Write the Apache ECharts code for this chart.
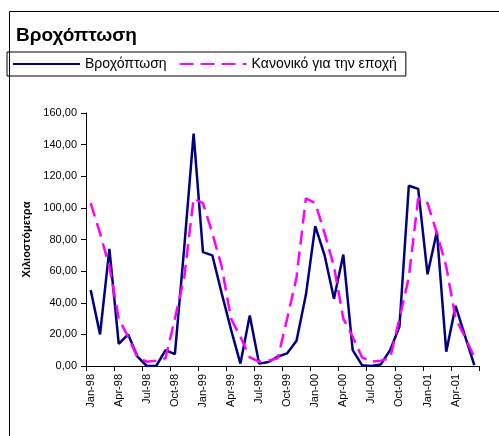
<!DOCTYPE html>
<html>
<head>
<meta charset="utf-8">
<script src="https://cdn.jsdelivr.net/npm/echarts@6/dist/echarts.min.js"></script>
<style>
html,body{margin:0;padding:0;background:#fff;}
#chart{width:499px;height:436px;}
</style>
</head>
<body>
<div id="chart"></div>
<script>
const categories = [
  'Jan-98','Feb-98','Mar-98','Apr-98','May-98','Jun-98','Jul-98','Aug-98','Sep-98','Oct-98','Nov-98','Dec-98',
  'Jan-99','Feb-99','Mar-99','Apr-99','May-99','Jun-99','Jul-99','Aug-99','Sep-99','Oct-99','Nov-99','Dec-99',
  'Jan-00','Feb-00','Mar-00','Apr-00','May-00','Jun-00','Jul-00','Aug-00','Sep-00','Oct-00','Nov-00','Dec-00',
  'Jan-01','Feb-01','Mar-01','Apr-01','May-01','Jun-01'
];
const rainfall = [
  48, 20, 74, 14, 20, 6, 0, 0, 10, 7.5, 75, 147,
  72, 70, 46, 23, 1.5, 32, 1.5, 2.5, 6, 8, 16, 45,
  88.5, 70, 42.5, 70.5, 10, 0.5, 0, 1, 10, 25, 114, 112,
  58, 85, 9, 38, 19, 0.5
];
const normal = [
  103, 84, 63, 30, 18.5, 5.5, 2.7, 3.4, 4.9, 30, 56, 106,
  103, 84, 63, 30, 18.5, 5.5, 2.7, 3.4, 4.9, 30, 56, 106,
  103, 84, 63, 30, 18.5, 5.5, 2.7, 3.4, 4.9, 30, 56, 106,
  103, 84, 63, 30, 18.5, 5.5
];
const seriesNames = ['Βροχόπτωση', 'Κανονικό για την εποχή'];
const titleText = 'Βροχόπτωση';
const yAxisName = 'Χιλιοστόμετρα';

const FONT = 'Arial, "Liberation Sans", sans-serif';
const chart = echarts.init(document.getElementById('chart'), null, {renderer: 'canvas'});
chart.setOption({
  animation: false,
  backgroundColor: '#fff',
  graphic: [{
    type: 'rect', left: 7, top: 9, silent: true,
    shape: {x: 0, y: 0, width: 600, height: 600},
    style: {fill: 'none', stroke: '#000', lineWidth: 1}
  }],
  title: {
    text: titleText, left: 11, top: 21,
    textStyle: {fontFamily: FONT, fontSize: 19, fontWeight: 'bold', color: '#000'}
  },
  legend: {
    left: 7, top: 52, orient: 'horizontal',
    padding: [5, 9, 5, 5],
    borderColor: '#000', borderWidth: 1,
    itemWidth: 67, itemHeight: 14, itemGap: 12,
    itemStyle: {opacity: 0},
    textStyle: {fontFamily: FONT, fontSize: 14, color: '#000'},
    data: seriesNames
  },
  grid: {left: 86, right: 20, top: 113, bottom: 70, containLabel: false},
  xAxis: {
    type: 'category', data: categories, boundaryGap: true,
    axisLine: {lineStyle: {color: '#000', width: 1}},
    axisTick: {show: true, interval: 2, length: 5, inside: false, lineStyle: {color: '#000'}},
    axisLabel: {interval: 2, rotate: 90, margin: 8, fontFamily: FONT, fontSize: 11, color: '#000'},
    splitLine: {show: false}
  },
  yAxis: {
    type: 'value', min: 0, max: 160, interval: 20,
    name: yAxisName, nameLocation: 'middle', nameGap: 54, nameRotate: 90,
    nameTextStyle: {fontFamily: FONT, fontSize: 11, fontWeight: 'bold', color: '#000'},
    axisLine: {show: true, lineStyle: {color: '#000', width: 1}},
    axisTick: {show: true, length: 5, lineStyle: {color: '#000'}},
    axisLabel: {margin: 9, fontFamily: FONT, fontSize: 11, color: '#000',
      formatter: v => v.toFixed(2).replace('.', ',')},
    splitLine: {show: false}
  },
  series: [
    {
      name: seriesNames[0], type: 'line', data: rainfall, symbol: 'none',
      lineStyle: {color: '#000080', width: 2.5},
      itemStyle: {color: '#000080'}
    },
    {
      name: seriesNames[1], type: 'line', data: normal, symbol: 'none',
      lineStyle: {color: '#FF00FF', width: 2.5, type: [14, 7]},
      itemStyle: {color: '#FF00FF'}
    }
  ]
});
</script>
</body>
</html>
